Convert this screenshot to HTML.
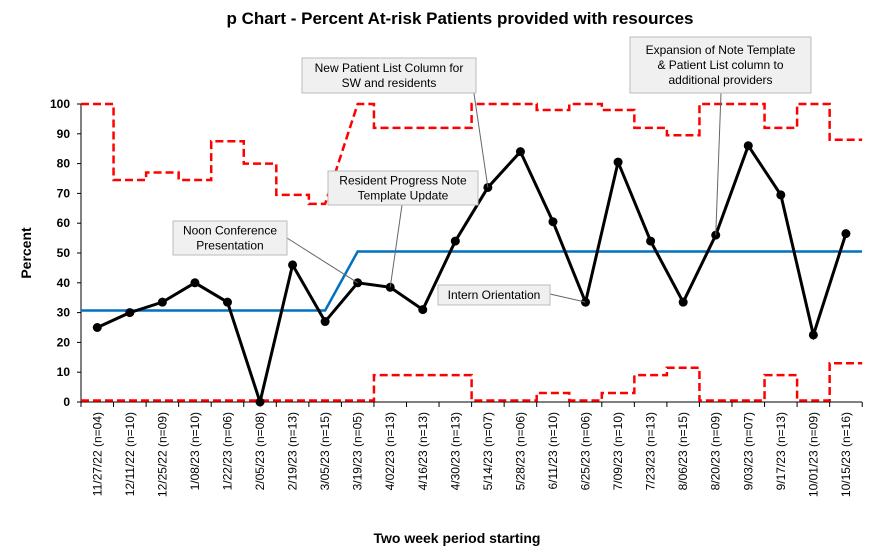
<!DOCTYPE html>
<html><head><meta charset="utf-8"><style>body{margin:0;background:#fff}svg{display:block;font-family:"Liberation Sans",Arial,sans-serif}</style></head><body>
<svg id="s" width="891" height="560" viewBox="0 0 891 560" xmlns="http://www.w3.org/2000/svg">
<rect width="891" height="560" fill="#fff"/>
<text x="460" y="24" font-size="17" font-weight="bold" text-anchor="middle">p Chart - Percent At-risk Patients provided with resources</text>
<text x="457" y="543" font-size="14" font-weight="bold" text-anchor="middle">Two week period starting</text>
<text transform="translate(31,253) rotate(-90)" font-size="14" font-weight="bold" text-anchor="middle">Percent</text>
<g id="g"></g>
</svg>
<script>
const g=document.getElementById('g');const NS='http://www.w3.org/2000/svg';
function el(t,a,txt){const e=document.createElementNS(NS,t);for(const k in a)e.setAttribute(k,a[k]);if(txt!=null)e.textContent=txt;g.appendChild(e);return e;}
const L=81,W=32.55,Y=v=>402-v*2.98,b=i=>L+W*i,c=i=>L+W*(i+0.5);
const labels=["11/27/22 (n=04)","12/11/22 (n=10)","12/25/22 (n=09)","1/08/23 (n=10)","1/22/23 (n=06)","2/05/23 (n=08)","2/19/23 (n=13)","3/05/23 (n=15)","3/19/23 (n=05)","4/02/23 (n=13)","4/16/23 (n=13)","4/30/23 (n=13)","5/14/23 (n=07)","5/28/23 (n=06)","6/11/23 (n=10)","6/25/23 (n=06)","7/09/23 (n=10)","7/23/23 (n=13)","8/06/23 (n=15)","8/20/23 (n=09)","9/03/23 (n=07)","9/17/23 (n=13)","10/01/23 (n=09)","10/15/23 (n=16)"];
const vals=[25,30,33.5,40,33.5,0,46,27,40,38.5,31,54,72,84,60.5,33.5,80.5,54,33.5,56,86,69.5,22.5,56.5];
const ucl=[100,74.5,77,74.5,87.5,80,69.5,66.5,100,92,92,92,100,100,98,100,98,92,89.5,100,100,92,100,88];
const lcl=[0.5,0.5,0.5,0.5,0.5,0.5,0.5,0.5,0.5,9,9,9,0.5,0.5,3,0.5,3,9,11.5,0.5,0.5,9,0.5,13];
// axes
el('line',{x1:L,y1:104,x2:L,y2:402,stroke:'#000'});
el('line',{x1:L,y1:402,x2:862,y2:402,stroke:'#000'});
for(let v=0;v<=100;v+=10){el('line',{x1:L-4,y1:Y(v),x2:L,y2:Y(v),stroke:'#000'});el('text',{x:70,y:Y(v)+4,'font-size':12,'font-weight':'bold','text-anchor':'end'},v);}
for(let i=0;i<=24;i++)el('line',{x1:b(i),y1:402,x2:b(i),y2:407,stroke:'#000'});
labels.forEach((t,i)=>el('text',{transform:`translate(${c(i)+4},412) rotate(-90)`,'font-size':12,'text-anchor':'end'},t));
function step(arr){let p=`M${b(0)},${Y(arr[0])}`;for(let i=0;i<24;i++){if(i>0){if(i==8){p+=` L${c(8)},${Y(arr[8])}`;}else p+=` L${b(i)},${Y(arr[i])}`;}
 if(i==7){p+=` L${c(7)},${Y(arr[7])}`;}else p+=` L${b(i+1)},${Y(arr[i])}`;}return p;}
el('path',{d:step(ucl),fill:'none',stroke:'#f00','stroke-width':2.5,'stroke-dasharray':'8,4'});
el('path',{d:step(lcl),fill:'none',stroke:'#f00','stroke-width':2.5,'stroke-dasharray':'8,4'});
el('path',{d:`M${L},${Y(30.7)} L${c(7)},${Y(30.7)} L${c(8)},${Y(50.5)} L862,${Y(50.5)}`,fill:'none',stroke:'#0070c0','stroke-width':2.5});
el('polyline',{points:vals.map((v,i)=>c(i)+','+Y(v)).join(' '),fill:'none',stroke:'#000','stroke-width':3});
vals.forEach((v,i)=>el('circle',{cx:c(i),cy:Y(v),r:4.5,fill:'#000'}));
// annotations
function box(x,y,w,h,lines,lx1,ly1,lx2,ly2){el('line',{x1:lx1,y1:ly1,x2:lx2,y2:ly2,stroke:'#666'});el('rect',{x,y,width:w,height:h,fill:'#f0f0f0',stroke:'#bbb'});
 lines.forEach((t,k)=>el('text',{x:x+w/2,y:y+h/2+4+(k-(lines.length-1)/2)*15,'font-size':12,'text-anchor':'middle'},t));}
box(302,58,174,35,["New Patient List Column for","SW and residents"],472,80,c(12),Y(72));
box(630,37,181,56,["Expansion of Note Template","& Patient List column to","additional providers"],721,93,c(19),Y(56));
box(328,171,150,34,["Resident Progress Note","Template Update"],402,205,c(9),Y(38.5));
box(173,221,114,34,["Noon Conference","Presentation"],287,238,c(8),Y(40));
box(438,285,112,20,["Intern Orientation"],550,294,c(15),Y(33.5));
</script>
</body></html>
